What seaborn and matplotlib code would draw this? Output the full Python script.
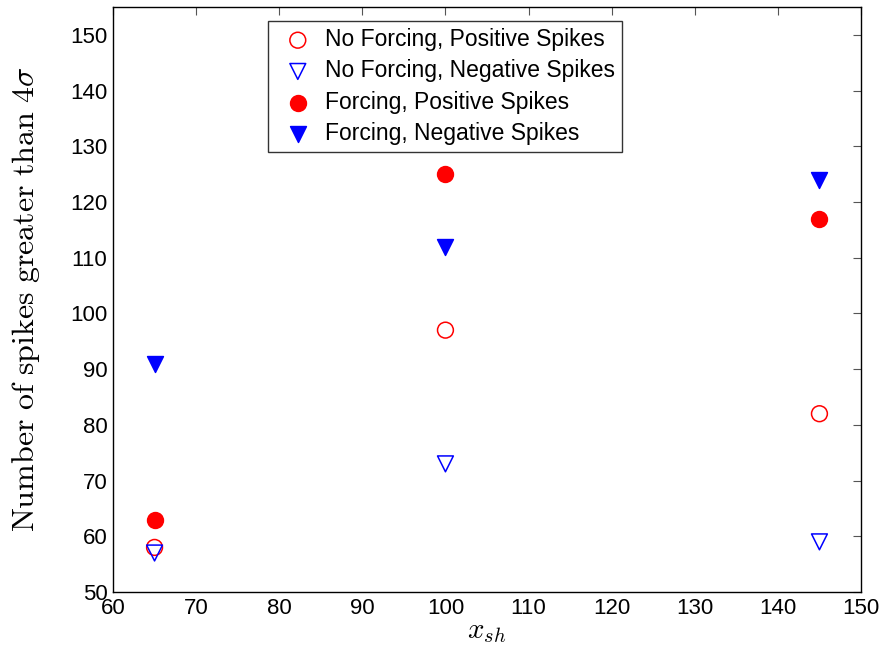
import matplotlib
matplotlib.use("Agg")
import matplotlib.pyplot as plt
import seaborn as sns
import pandas as pd

sns.set_style("white")
plt.rcParams["font.family"] = ["Liberation Sans", "DejaVu Sans"]
plt.rcParams["mathtext.fontset"] = "cm"
plt.rcParams["text.color"] = "black"
plt.rcParams["axes.labelcolor"] = "black"

x_sh = [65, 100, 145]
no_forcing_pos = [58, 97, 82]
no_forcing_neg = [57, 73, 59]
forcing_pos = [63, 125, 117]
forcing_neg = [91, 112, 124]

series = [
    ("No Forcing, Positive Spikes", no_forcing_pos, "o", "none", "red"),
    ("No Forcing, Negative Spikes", no_forcing_neg, "v", "none", "blue"),
    ("Forcing, Positive Spikes", forcing_pos, "o", "red", "red"),
    ("Forcing, Negative Spikes", forcing_neg, "v", "blue", "blue"),
]

fig = plt.figure(figsize=(8.84, 6.47), dpi=100)
ax = fig.add_axes([113 / 884, 1 - 592 / 647, (861 - 113) / 884, (592 - 7) / 647])

for label, vals, marker, face, edge in series:
    df = pd.DataFrame({"x": x_sh, "y": vals})
    sns.scatterplot(data=df, x="x", y="y", ax=ax, marker=marker, s=130,
                    facecolor=face, edgecolor=edge, linewidth=1.1, label=label)

ax.set_xlim(60, 150)
ax.set_ylim(50, 155)
ax.set_xticks(range(60, 151, 10))
ax.set_yticks(range(50, 151, 10))
ax.tick_params(direction="in", length=6, width=0.8, color="#555555",
               labelcolor="black", labelsize=16, top=True, right=True, pad=4)
for s in ax.spines.values():
    s.set_linewidth(1.0)
    s.set_color("black")

ax.set_xlabel(r"$x_{sh}$", fontsize=21, labelpad=-1, color="black")
ax.set_ylabel(r"$\mathrm{Number\ of\ spikes\ greater\ than\ }4\sigma$", fontsize=23,
              labelpad=20, color="black")

leg = ax.legend(loc="upper left", bbox_to_anchor=(155 / 748, 0.9755), fontsize=16.5,
                frameon=True, fancybox=False, edgecolor="black", borderpad=0.3,
                handletextpad=0.2, labelspacing=0.36, borderaxespad=0)
leg.get_frame().set_linewidth(1.0)
for t in leg.get_texts():
    t.set_color("black")

fig.savefig("out.png", dpi=100)
